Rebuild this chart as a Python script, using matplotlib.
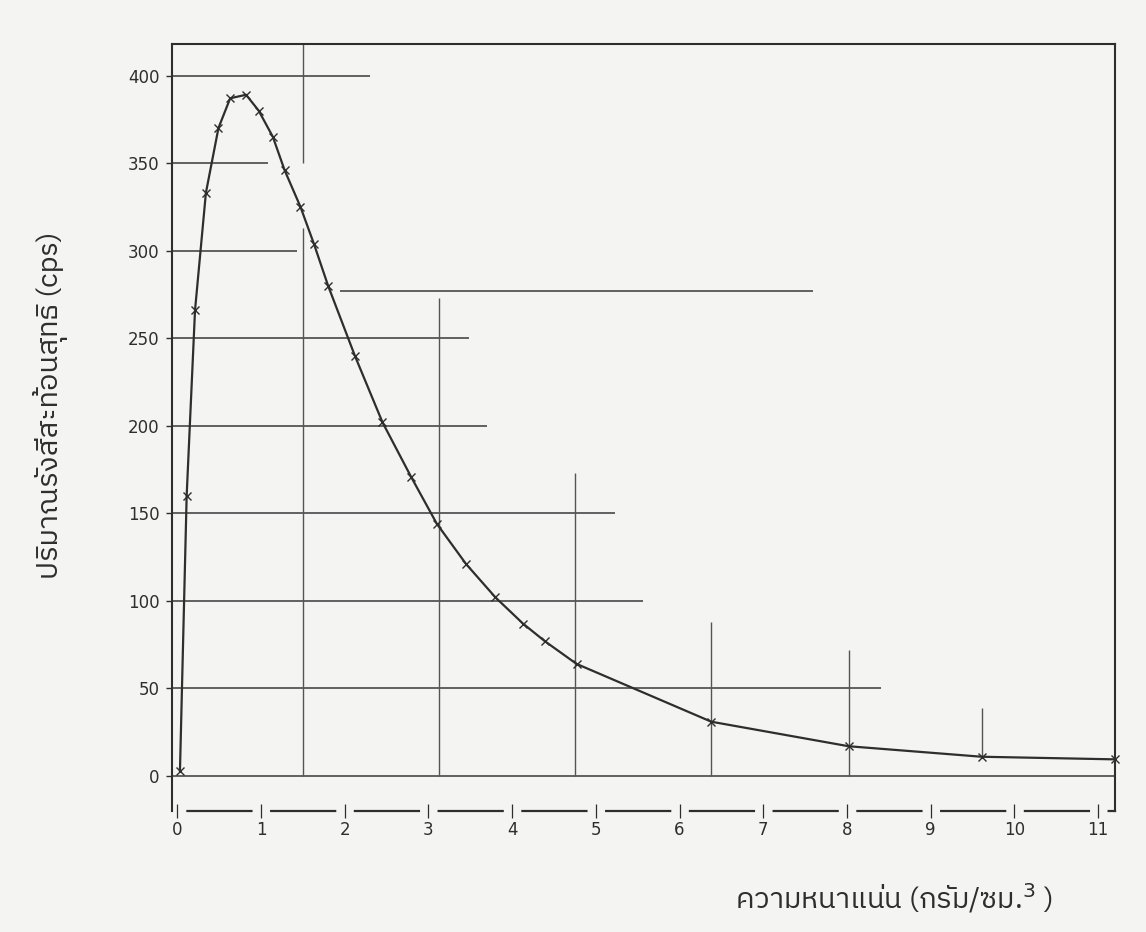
import matplotlib
matplotlib.use("Agg")
import matplotlib.pyplot as plt
from matplotlib import font_manager
from matplotlib.ft2font import FT2Font

# find an installed font that has Thai glyphs
thai_font = None
for f in font_manager.fontManager.ttflist:
    try:
        if 0x0E01 in FT2Font(f.fname).get_charmap():
            thai_font = f.name
            if "Thai" in f.name:
                break
    except Exception:
        pass
families = [thai_font, "DejaVu Sans"] if thai_font else ["DejaVu Sans"]

plt.rcParams.update({
    "font.family": "DejaVu Sans",
    "font.size": 12,
    "lines.scale_dashes": False,
})

# data
density = [0.03, 0.11, 0.21, 0.34, 0.49, 0.63, 0.82, 0.97, 1.14, 1.28, 1.47, 1.63,
           1.80, 2.12, 2.45, 2.79, 3.10, 3.45, 3.80, 4.13, 4.39, 4.77, 6.38, 8.02,
           9.61, 11.21]
counts = [3, 160, 266, 333, 370, 387, 389, 380, 365, 346, 325, 304,
          280, 240, 202, 171, 144, 121, 102, 87, 77, 64, 31, 17,
          11, 9.5]

x_ticks = list(range(0, 12))
y_ticks = list(range(0, 401, 50))

# hand-drawn grid of the original sheet (level, extent)
hgrid_levels = [400, 350, 300, 277, 250, 200, 150, 100, 50, 0]
hgrid_start = [-0.07, -0.07, -0.07, 1.94, -0.07, -0.07, -0.07, -0.07, -0.07, -0.07]
hgrid_end = [2.30, 1.08, 1.43, 7.60, 3.49, 3.70, 5.23, 5.56, 8.41, 11.21]
vgrid_pos = [1.50, 1.50, 3.12, 4.75, 6.38, 8.02, 9.61]
vgrid_low = [350, 0, 0, 0, 0, 0, 11]
vgrid_high = [418, 313, 273, 173, 88, 72, 39]

ylabel = "ปริมาณรังสีสะท้อนสุทธิ (cps)"
xlabel = "ความหนาแน่น (กรัม/ซม.$^{3}$ )"

ink = "#2e2e2e"
paper = "#f4f4f2"

fig = plt.figure(figsize=(11.46, 9.32), dpi=100, facecolor=paper)
ax = fig.add_axes([0.1501, 0.1298, 0.8229, 0.823])
ax.set_facecolor(paper)

ax.hlines(hgrid_levels, hgrid_start, hgrid_end, colors="#555555", linewidth=1.3)
ax.vlines(vgrid_pos, vgrid_low, vgrid_high, colors="#555555", linewidth=1.0)

ax.plot(density, counts, color=ink, linewidth=1.6, marker="x", markersize=6,
        markeredgewidth=1.0, clip_on=False, zorder=3)

ax.set_xlim(-0.065, 11.205)
ax.set_ylim(-20, 418)

ax.set_xticks(x_ticks)
ax.set_yticks(y_ticks)
ax.tick_params(axis="x", direction="inout", length=10, width=0.9, pad=2,
               colors=ink, labelsize=12)
ax.tick_params(axis="y", direction="out", length=4, width=1.0, pad=5,
               colors=ink, labelsize=12)

for side in ["left", "top", "right"]:
    ax.spines[side].set_color(ink)
    ax.spines[side].set_linewidth(1.5)
ax.spines["bottom"].set_color(ink)
ax.spines["bottom"].set_linewidth(1.6)
ax.spines["bottom"].set_linestyle((49.2, (46.1, 14.2)))

fig.text(0.044, 1 - 405 / 932, ylabel, rotation=90, ha="center", va="center",
         fontsize=21, family=families, color=ink)
fig.text(0.78, 1 - 898 / 932, xlabel, ha="center", va="center",
         fontsize=21, family=families, color=ink)

plt.savefig("out.png", dpi=100, facecolor=paper)
